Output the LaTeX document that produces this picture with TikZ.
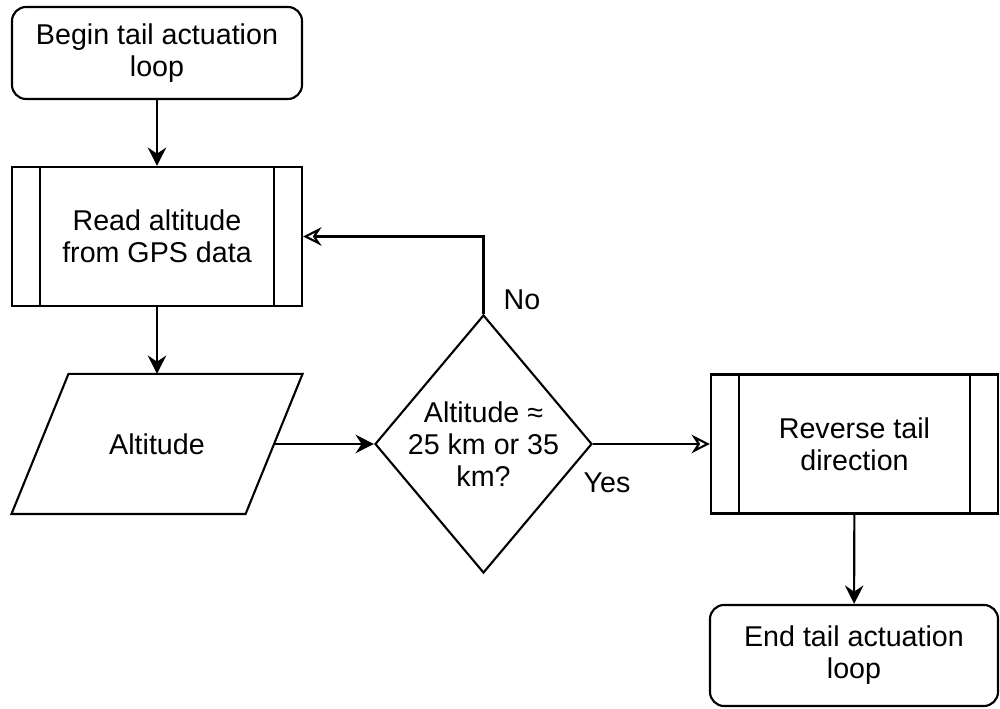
\documentclass[tikz,border=0pt]{standalone}
\usepackage{fontspec}
\setmainfont{Liberation Sans}
\usepackage{tikz}
\usetikzlibrary{shapes.geometric, arrows.meta, positioning}

\begin{document}
\begin{tikzpicture}[
    font=\fontsize{16.3}{18.2}\selectfont,
    line width=1.2pt,
    term/.style={rectangle, draw, fill=white, rounded corners=8pt,
                 minimum width=5.8cm, minimum height=1.84cm, align=center},
    proc/.style={rectangle, draw, fill=white,
                 minimum width=5.8cm, minimum height=2.78cm, align=center},
    io/.style={rectangle, minimum width=4.64cm, minimum height=2.76cm, align=center},
    choice/.style={diamond, draw, fill=white, inner sep=0pt,
                   minimum width=4.34cm, minimum height=5.16cm},
    arr/.style={-{Stealth[length=10.5pt, width=10.5pt, inset=3.5pt]}},
    openarr/.style={-{Stealth[open, length=10.5pt, width=10.5pt, inset=3.5pt]}}
  ]
    \useasboundingbox (0,0) rectangle (20,14.18);

    \node[term]   (start) at (3.14,13.12) {Begin tail actuation\\loop};
    \node[proc]   (rd)    at (3.14,9.45)  {Read altitude\\from GPS data};
    \node[io]     (alt)   at (3.14,5.30)  {Altitude};
    \node[choice, label={[align=center]center:Altitude ≈\\25 km or 35\\km?}]
                  (dec)   at (9.67,5.30)  {};
    \node[proc, minimum width=5.74cm] (rev) at (17.09,5.30) {Reverse tail\\direction};
    \node[term, minimum width=5.76cm, minimum height=2.02cm]
                  (fin)   at (17.08,1.07) {End tail actuation\\loop};

    % slanted outline of the data node
    \draw ([xshift=-0.57cm]alt.south west) -- ([xshift=0.57cm]alt.north west)
      -- ([xshift=0.57cm]alt.north east) -- ([xshift=-0.57cm]alt.south east) -- cycle;

    % side bars of the predefined-process boxes
    \foreach \n in {rd, rev} {
      \draw ([xshift=0.58cm]\n.north west) -- ([xshift=0.58cm]\n.south west);
      \draw ([xshift=-0.58cm]\n.north east) -- ([xshift=-0.58cm]\n.south east);
    }

    \draw[arr] (start) -- (rd);
    \draw[arr] (rd) -- (alt.north);
    \draw[arr] (alt.east) -- (dec.west);
    \draw[openarr] (dec.north) |- (rd.east);
    \draw[openarr] (dec.east) -- (rev.west);
    \draw[arr] (rev) -- (fin);

    \node (no)  at (10.44,8.18) {No};
    \node (yes) at (12.14,4.52) {Yes};
\end{tikzpicture}
\end{document}
